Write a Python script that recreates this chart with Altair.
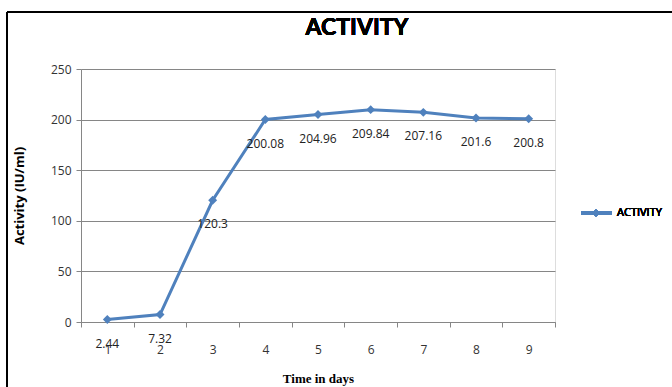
import altair as alt
import pandas as pd

# Enzyme activity measured over nine days
days = ["1", "2", "3", "4", "5", "6", "7", "8", "9"]
activity = [2.44, 7.32, 120.3, 200.08, 204.96, 209.84, 207.16, 201.6, 200.8]
labels = ["2.44", "7.32", "120.3", "200.08", "204.96", "209.84", "207.16", "201.6", "200.8"]
y_ticks = [0, 50, 100, 150, 200, 250]
series_name = "ACTIVITY"
chart_title = "ACTIVITY"

df = pd.DataFrame({"day": days, "activity": activity, "label": labels})

BLUE = "#4F81BD"
W, H = 474, 253

x_enc = alt.X(
    "day:N",
    sort=days,
    scale=alt.Scale(paddingInner=0, paddingOuter=0),
    axis=alt.Axis(
        title="Time in days",
        titleFont="Liberation Serif",
        titleFontSize=13,
        titleFontWeight="bold",
        titleColor="#000",
        titleY=56,
        titleBaseline="middle",
        labelAngle=0,
        labelFont="Open Sans",
        labelFontSize=12,
        labelColor="#333",
        labelPadding=17,
        tickBand="extent",
        tickSize=5,
        tickColor="#868686",
        domainColor="#868686",
        grid=False,
    ),
)
y_enc = alt.Y(
    "activity:Q",
    scale=alt.Scale(domain=[0, 250], nice=False),
    axis=alt.Axis(
        values=y_ticks,
        title="Activity (IU/ml)",
        titleFont="Open Sans",
        titleFontSize=13,
        titleFontWeight="bold",
        titleColor="#000",
        titleX=-62,
        titleY=H / 2,
        titleAngle=-90,
        titleAlign="center",
        titleBaseline="middle",
        labelFont="Open Sans",
        labelFontSize=12,
        labelColor="#333",
        labelPadding=5,
        tickSize=5,
        tickColor="#868686",
        domainColor="#868686",
        gridColor="#868686",
        gridWidth=1,
    ),
)

base = alt.Chart(df)

line = base.mark_line(color=BLUE, strokeWidth=3).encode(x=x_enc, y=y_enc)
points = base.mark_point(
    shape="diamond", filled=True, size=80, color=BLUE, opacity=1
).encode(x=x_enc, y=y_enc)
value_text = base.mark_text(
    dy=24, fontSize=12, font="Open Sans", color="#222"
).encode(x=x_enc, y=y_enc, text="label:N")

# Chart heading
heading = base.mark_text(
    align="center", baseline="middle", fontSize=23, font="Lato",
    fontWeight="bold", color="#000",
).encode(x=alt.value(276), y=alt.value(-41), text=alt.value(chart_title))

# Legend entry drawn to the right of the plot
legend_line = base.mark_rule(color=BLUE, strokeWidth=3).encode(
    x=alt.value(500), x2=alt.value(531), y=alt.value(144)
)
legend_point = base.mark_point(
    shape="diamond", filled=True, size=60, color=BLUE, opacity=1
).encode(x=alt.value(515), y=alt.value(144))
legend_text = base.mark_text(
    align="left", baseline="middle", fontSize=11, font="Open Sans", color="#000"
).encode(x=alt.value(536), y=alt.value(144), text=alt.value(series_name))

# Outer chart frame (left and top edges)
frame_top = base.mark_rule(color="#000", strokeWidth=2).encode(
    x=alt.value(-74), x2=alt.value(600), y=alt.value(-57)
)
frame_left = base.mark_rule(color="#000", strokeWidth=2).encode(
    x=alt.value(-74), y=alt.value(-57), y2=alt.value(330)
)

chart = (
    alt.layer(
        frame_top, frame_left, heading, line, points, value_text,
        legend_line, legend_point, legend_text,
    )
    .properties(
        width=W,
        height=H,
        autosize=alt.AutoSizeParams(type="none"),
        padding={"left": 81, "top": 69, "right": 117, "bottom": 65},
    )
    .configure_view(stroke=None)
    .configure(background="white")
)

chart.save("out.html", embed_options={"renderer": "svg", "actions": False})
